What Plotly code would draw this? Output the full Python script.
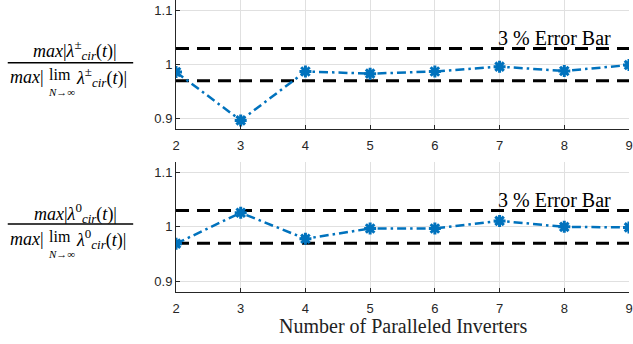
import plotly.graph_objects as go

# ---- data ----
n_inverters = [2, 3, 4, 5, 6, 7, 8, 9]
ratio_pm = [0.986, 0.896, 0.987, 0.983, 0.987, 0.996, 0.988, 0.999]
ratio_zero = [0.969, 1.026, 0.978, 0.997, 0.997, 1.011, 1.000, 0.999]
err_x = [2, 9]
err_upper = [1.03, 1.03]
err_lower = [0.97, 0.97]
y_ticks = [0.9, 1.0, 1.1]
y_ticktext = ["0.9", "1", "1.1"]
x_ticktext = [str(v) for v in n_inverters]

W, H = 633, 344
ML, MR, MT, MB = 176, 2, 0, 52
PW, PH = W - ML - MR, H - MT - MB

def px_x(px):
    return (px - ML) / PW

def px_y(py):
    return (H - MB - py) / PH

BLUE = "#0072BD"
AXC = "#262626"
GRID = "#e0e0e0"

fig = go.Figure()

for (yv, ax) in [(ratio_pm, ""), (ratio_zero, "2")]:
    for ev in (err_upper, err_lower):
        fig.add_trace(go.Scatter(
            x=err_x, y=ev, mode="lines", xaxis="x" + ax, yaxis="y" + ax,
            line=dict(color="black", width=3, dash="13px,8px"),
            hoverinfo="skip", showlegend=False))
    fig.add_trace(go.Scatter(
        x=n_inverters, y=yv, mode="lines+markers", xaxis="x" + ax, yaxis="y" + ax,
        line=dict(color=BLUE, width=2.5, dash="9px,4px,2.5px,4px"),
        marker=dict(symbol="asterisk", size=10, color=BLUE,
                    line=dict(color=BLUE, width=3)),
        showlegend=False))

axis_common = dict(
    showline=True, linecolor=AXC, linewidth=1, mirror=False,
    ticks="inside", ticklen=4, tickcolor=AXC,
    showgrid=True, gridcolor=GRID, gridwidth=1, zeroline=False,
    tickfont=dict(family="Liberation Sans, Arial", size=13, color=AXC),
)

top_bot = 129
bot_top = 161.7
fig.update_layout(
    width=W, height=H,
    margin=dict(l=ML, r=MR, t=MT, b=MB),
    plot_bgcolor="white", paper_bgcolor="white",
    xaxis=dict(domain=[0, 1], anchor="y", range=[2, 9], ticklabelstandoff=4,
               ticklabeloverflow="allow",
               tickvals=n_inverters, ticktext=x_ticktext, **axis_common),
    yaxis=dict(domain=[px_y(top_bot), 1], anchor="x", range=[0.88, 1.12],
               tickvals=y_ticks, ticktext=y_ticktext, **axis_common),
    xaxis2=dict(domain=[0, 1], anchor="y2", range=[2, 9], ticklabelstandoff=4,
                ticklabeloverflow="allow",
                tickvals=n_inverters, ticktext=x_ticktext, **axis_common),
    yaxis2=dict(domain=[0, px_y(bot_top)], anchor="x2", range=[0.88, 1.12],
                tickvals=y_ticks, ticktext=y_ticktext, **axis_common),
)

SERIF = "Liberation Serif, Times New Roman, serif"
ann = []
# Error bar labels
for ya, xa in [("y", "x"), ("y2", "x2")]:
    ann.append(dict(x=7.85, y=1.05, xref=xa, yref=ya, text="3 % Error Bar",
                    showarrow=False, font=dict(family=SERIF, size=20, color="black"),
                    xanchor="center", yanchor="middle"))
# x-axis title
ann.append(dict(x=px_x(403.5), y=px_y(326), xref="paper", yref="paper",
                text="Number of Paralleled Inverters", showarrow=False,
                font=dict(family=SERIF, size=20, color="#222222"),
                xanchor="center", yanchor="middle"))

SS = '<span style="font-size:13px">'
shapes = []
for sym, num_y, bar_y, den_y, sub_y in [("±", 50, 62.7, 77, 92), ("0", 213, 224, 239, 254)]:
    lam = (f"<i>λ</i><sup>{SS}{sym}</span></sup>"
           f"<sub>{SS}<i>cir</i></span></sub>(<i>t</i>)|")
    ann.append(dict(x=px_x(75), y=px_y(num_y), xref="paper", yref="paper",
                    text=f"<i>max</i>|" + lam,
                    showarrow=False, font=dict(family=SERIF, size=18, color="black"),
                    xanchor="center", yanchor="middle"))
    ann.append(dict(x=px_x(45), y=px_y(den_y), xref="paper", yref="paper",
                    text="<i>max</i>|", showarrow=False,
                    font=dict(family=SERIF, size=18, color="black"),
                    xanchor="right", yanchor="middle"))
    ann.append(dict(x=px_x(59), y=px_y(den_y - 3), xref="paper", yref="paper",
                    text="lim", showarrow=False,
                    font=dict(family=SERIF, size=16, color="black"),
                    xanchor="center", yanchor="middle"))
    ann.append(dict(x=px_x(74), y=px_y(den_y), xref="paper", yref="paper",
                    text=lam,
                    showarrow=False, font=dict(family=SERIF, size=18, color="black"),
                    xanchor="left", yanchor="middle"))
    ann.append(dict(x=px_x(61), y=px_y(sub_y), xref="paper", yref="paper",
                    text="<i>N</i>→∞", showarrow=False,
                    font=dict(family=SERIF, size=11, color="black"),
                    xanchor="center", yanchor="middle"))
    shapes.append(dict(type="line", xref="paper", yref="paper",
                       x0=px_x(7), x1=px_x(133), y0=px_y(bar_y), y1=px_y(bar_y),
                       line=dict(color="black", width=1.5)))

fig.update_layout(annotations=ann, shapes=shapes)
fig.write_html("out.html")
